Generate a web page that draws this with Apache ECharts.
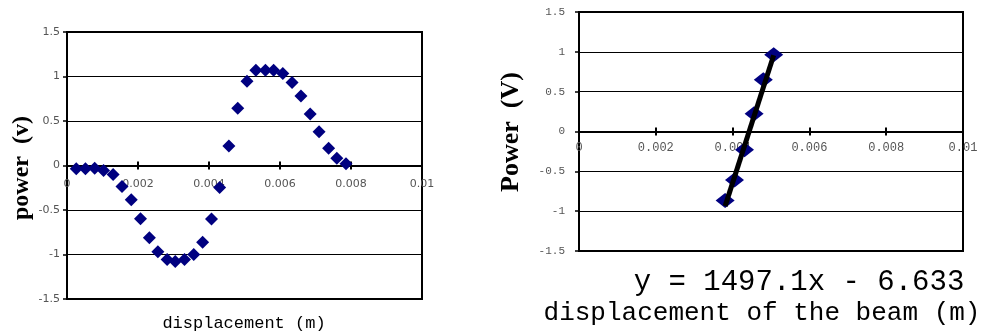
<!DOCTYPE html>
<html><head><meta charset="utf-8">
<script src="https://cdn.jsdelivr.net/npm/echarts@6/dist/echarts.min.js"></script>
<style>html,body{margin:0;padding:0;background:#fff}#c{width:982px;height:335px}</style>
</head><body><div id="c"></div>
<script>
// Left chart: power vs displacement
const leftX = [0.00026,0.00052,0.00078,0.00103,0.0013,0.00155,0.00181,0.00207,0.00232,0.00256,0.00282,0.00305,0.00331,0.00357,0.00382,0.00407,0.0043,0.00456,0.00481,0.00507,0.00532,0.00559,0.00582,0.00608,0.00634,0.00659,0.00685,0.0071,0.00737,0.0076,0.00786];
const leftY = [-0.037,-0.037,-0.03,-0.056,-0.10,-0.235,-0.384,-0.597,-0.813,-0.97,-1.056,-1.08,-1.056,-1.0,-0.862,-0.60,-0.246,0.22,0.642,0.948,1.07,1.07,1.07,1.034,0.933,0.78,0.578,0.38,0.194,0.082,0.019];
// Right chart: linear segment
const rightX = [0.003805,0.00405,0.00431,0.00456,0.0048,0.00507];
const rightY = [-0.866,-0.61,-0.23,0.223,0.651,0.962];
const trendSlope = 1497.1, trendIntercept = -6.633;
const xTicks = ['0','0.002','0.004','0.006','0.008','0.01'];
const yTicks = ['-1.5','-1','-0.5','0','0.5','1','1.5'];
const leftYTitle = 'power  (v)', leftXTitle = 'displacement (m)';
const rightYTitle = 'Power  (V)', rightXTitle = 'displacement of the beam (m)';
const eqText = 'y = 1497.1x - 6.633';

const xMin = Math.min(...rightX), xMax = Math.max(...rightX);
const trend = [[xMin, trendSlope*xMin+trendIntercept],[xMax, trendSlope*xMax+trendIntercept]];

function fmtX(v){ const i = Math.round(v/0.002); return xTicks[i] !== undefined ? xTicks[i] : ''; }
function fmtY(v){ const i = Math.round((v+1.5)/0.5); return yTicks[i] !== undefined ? yTicks[i] : ''; }

const grids = [], xAxes = [], yAxes = [];
function addChart(box, font, xFont, labelMargin, yFont, yLabelMargin){
  const main = grids.length;
  grids.push({left:box.l, top:box.t, width:box.w, height:box.h, show:true, borderColor:'#000', borderWidth:2, backgroundColor:'transparent'});
  xAxes.push({gridIndex:main, type:'value', min:0, max:0.01, interval:0.002,
    axisLine:{show:false}, axisTick:{show:false}, axisLabel:{show:false}, splitLine:{show:false}});
  yAxes.push({gridIndex:main, type:'value', min:-1.5, max:1.5, interval:0.5,
    axisLine:{show:true, onZero:false, lineStyle:{color:'#000', width:2}},
    axisTick:{show:true, length:4, lineStyle:{color:'#000', width:1.5}},
    axisLabel:{formatter:fmtY, color:'#555', fontFamily:font, fontSize:yFont, margin:yLabelMargin},
    splitLine:{show:true, lineStyle:{color:'#000', width:1}}});
  const half = box.h/2;
  // upper half grid: its bottom edge is the zero line
  const a = grids.length;
  grids.push({left:box.l, top:box.t, width:box.w, height:half});
  xAxes.push({gridIndex:a, type:'value', min:0, max:0.01, interval:0.002, position:'bottom',
    axisLine:{show:true, onZero:false, lineStyle:{color:'#000', width:2}},
    axisTick:{show:true, inside:false, length:4, lineStyle:{color:'#000', width:2}},
    axisLabel:{formatter:fmtX, color:'#555', fontFamily:font, fontSize:xFont, margin:labelMargin},
    splitLine:{show:false}});
  yAxes.push({gridIndex:a, type:'value', min:0, max:1.5, show:false});
  // lower half grid: its top edge is the zero line (ticks upward)
  const b = grids.length;
  grids.push({left:box.l, top:box.t+half, width:box.w, height:half});
  xAxes.push({gridIndex:b, type:'value', min:0, max:0.01, interval:0.002, position:'top',
    axisLine:{show:false, onZero:false},
    axisTick:{show:true, inside:false, length:4, lineStyle:{color:'#000', width:2}},
    axisLabel:{show:false}, splitLine:{show:false}});
  yAxes.push({gridIndex:b, type:'value', min:-1.5, max:0, show:false});
  return main;
}
const L = addChart({l:67, t:32, w:355, h:267}, 'DejaVu Sans', 11, 13, 11, 7);
const R = addChart({l:579, t:12, w:384, h:239}, 'Liberation Mono', 12, 10, 11, 14);

const chart = echarts.init(document.getElementById('c'), null, {renderer:'canvas'});
chart.setOption({
  animation:false,
  backgroundColor:'#fff',
  grid:grids, xAxis:xAxes, yAxis:yAxes,
  series:[
    {type:'scatter', xAxisIndex:L, yAxisIndex:L, symbol:'diamond', symbolSize:[13,13],
     itemStyle:{color:'#000080', opacity:1}, data:leftX.map((x,i)=>[x,leftY[i]]), z:4},
    {type:'scatter', xAxisIndex:R, yAxisIndex:R, symbol:'diamond', symbolSize:[19,15],
     itemStyle:{color:'#000080', opacity:1}, data:rightX.map((x,i)=>[x,rightY[i]]), z:4},
    {type:'line', xAxisIndex:R, yAxisIndex:R, symbol:'none', data:trend,
     lineStyle:{color:'#000', width:5}, z:5}
  ],
  graphic:[
    {type:'text', x:22, y:168, rotation:Math.PI/2,
     style:{text:leftYTitle, font:'bold 24px "Liberation Serif"', fill:'#000', align:'center', verticalAlign:'middle'}},
    {type:'text', x:244, y:323,
     style:{text:leftXTitle, font:'17px "Liberation Mono"', fill:'#000', align:'center', verticalAlign:'middle'}},
    {type:'text', x:511, y:132, rotation:Math.PI/2,
     style:{text:rightYTitle, font:'bold 26px "Liberation Serif"', fill:'#000', align:'center', verticalAlign:'middle'}},
    {type:'text', x:799, y:282,
     style:{text:eqText, font:'29px "Liberation Mono"', fill:'#000', align:'center', verticalAlign:'middle'}},
    {type:'text', x:762, y:313,
     style:{text:rightXTitle, font:'26px "Liberation Mono"', fill:'#000', align:'center', verticalAlign:'middle'}}
  ]
});
</script></body></html>
